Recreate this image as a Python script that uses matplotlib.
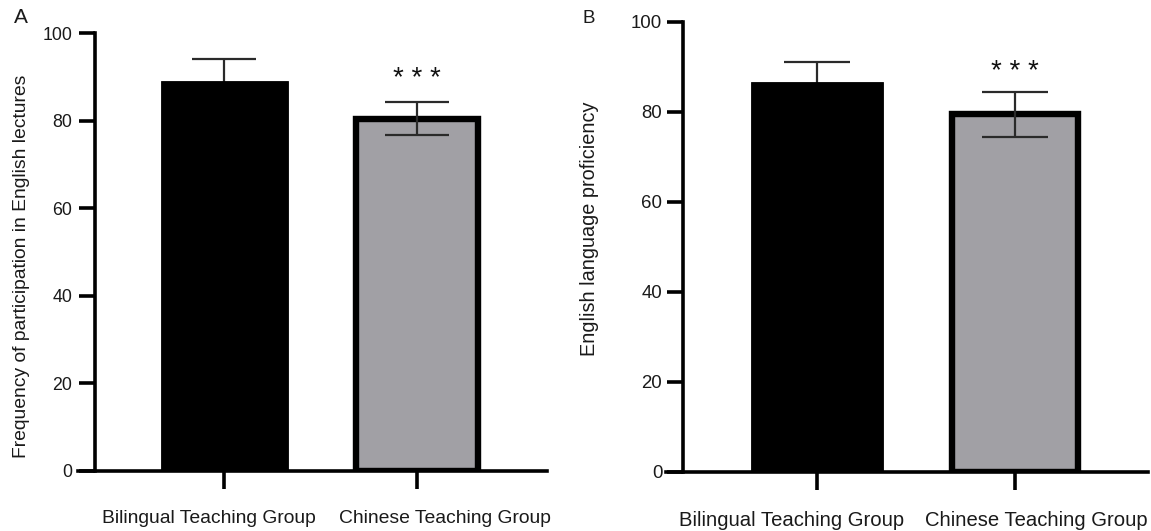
import numpy as np
import matplotlib
matplotlib.use("Agg")
import matplotlib.pyplot as plt
from matplotlib.transforms import ScaledTranslation

plt.rcParams['font.family'] = ['Liberation Sans', 'DejaVu Sans']

groups = ["Bilingual Teaching Group", "Chinese Teaching Group"]
bar_colors = ["#000000", "#a1a0a5"]

# panel A: frequency of participation in English lectures
freq_mean = [89.2, 80.5]
freq_err = [4.9, 3.7]
# panel B: English language proficiency
prof_mean = [86.7, 79.4]
prof_err = [4.3, 5.0]

star_text = "* * *"
star_y = [88.0, 87.2]

W, H = 1151, 531
TXT = "#1a1a1a"


def draw_panel(ax, means, errs, ylabel, star_pos, cfg):
    x = np.arange(len(groups))
    # black bar: thin outline, grey bar: thick black border
    ax.bar(x[0], means[0], width=cfg["w"], color=bar_colors[0],
           edgecolor="black", linewidth=0.6, zorder=2)
    ax.bar(x[1], means[1], width=cfg["w2"], color=bar_colors[1],
           edgecolor="black", linewidth=4.6, zorder=2)
    # error bar of the black bar sits behind it, so only the upper arm shows
    for i, z in zip(x, [1, 3]):
        ax.errorbar(x[i], means[i], yerr=errs[i], fmt="none", ecolor="#2a2a2a",
                    elinewidth=1.6, capsize=cfg["cap"], capthick=1.6, zorder=z)
    ax.text(1, star_pos, star_text, ha="center", va="baseline",
            fontsize=20, color="#111111")
    ax.set_xlim(*cfg["xlim"])
    ax.set_ylim(0, 100)
    ax.set_yticks([0, 20, 40, 60, 80, 100])
    ax.set_xticks(x)
    ax.set_xticklabels(groups, fontsize=cfg["xfs"], color=TXT)
    ax.tick_params(axis="y", length=11.5, width=2.6, labelsize=cfg["yfs"],
                   labelcolor=TXT, pad=cfg["ypad"])
    ax.tick_params(axis="x", length=13, width=2.6, pad=15)
    for lab, dx in zip(ax.get_xticklabels(), cfg["lab_dx"]):
        lab.set_transform(lab.get_transform() +
                          ScaledTranslation(dx / 100, 0, ax.figure.dpi_scale_trans))
    for s in ["top", "right"]:
        ax.spines[s].set_visible(False)
    ax.spines["left"].set_position(("data", cfg["spine"]))
    ax.spines["left"].set_linewidth(2.6)
    ax.spines["bottom"].set_linewidth(2.6)
    ax.set_ylabel(ylabel, fontsize=cfg["lfs"], color=TXT, va="center")
    ax.yaxis.set_label_coords(*cfg["lab_xy"])


fig = plt.figure(figsize=(W / 100, H / 100), dpi=100)
axA = fig.add_axes([78 / W, (H - 470.7) / H, 468.7 / W, 437.4 / H])
axB = fig.add_axes([666 / W, (H - 472) / H, 482.3 / W, 450.3 / H])

cfgA = dict(w=0.66, w2=0.635, cap=22.8, xlim=(-0.761, 1.674), spine=-0.673,
            xfs=13.9, yfs=12.8, ypad=5, lab_dx=[-15.5, 27.7], lfs=13.9,
            lab_xy=(-0.1216, 0.468))
cfgB = dict(w=0.666, w2=0.635, cap=23.6, xlim=(-0.763, 1.671), spine=-0.676,
            xfs=14.6, yfs=13.4, ypad=3.6, lab_dx=[-25.5, 20.5], lfs=14.3,
            lab_xy=(-0.1576, 0.541))

draw_panel(axA, freq_mean, freq_err,
           "Frequency of participation in English lectures", star_y[0], cfgA)
draw_panel(axB, prof_mean, prof_err, "English language proficiency",
           star_y[1], cfgB)

fig.text(21 / W, 1 - 17.5 / H, "A", fontsize=15, va="center", ha="center",
         color=TXT)
fig.text(589 / W, 1 - 18.3 / H, "B", fontsize=13.5, va="center", ha="center",
         color=TXT)

fig.savefig("out.png", dpi=100)
